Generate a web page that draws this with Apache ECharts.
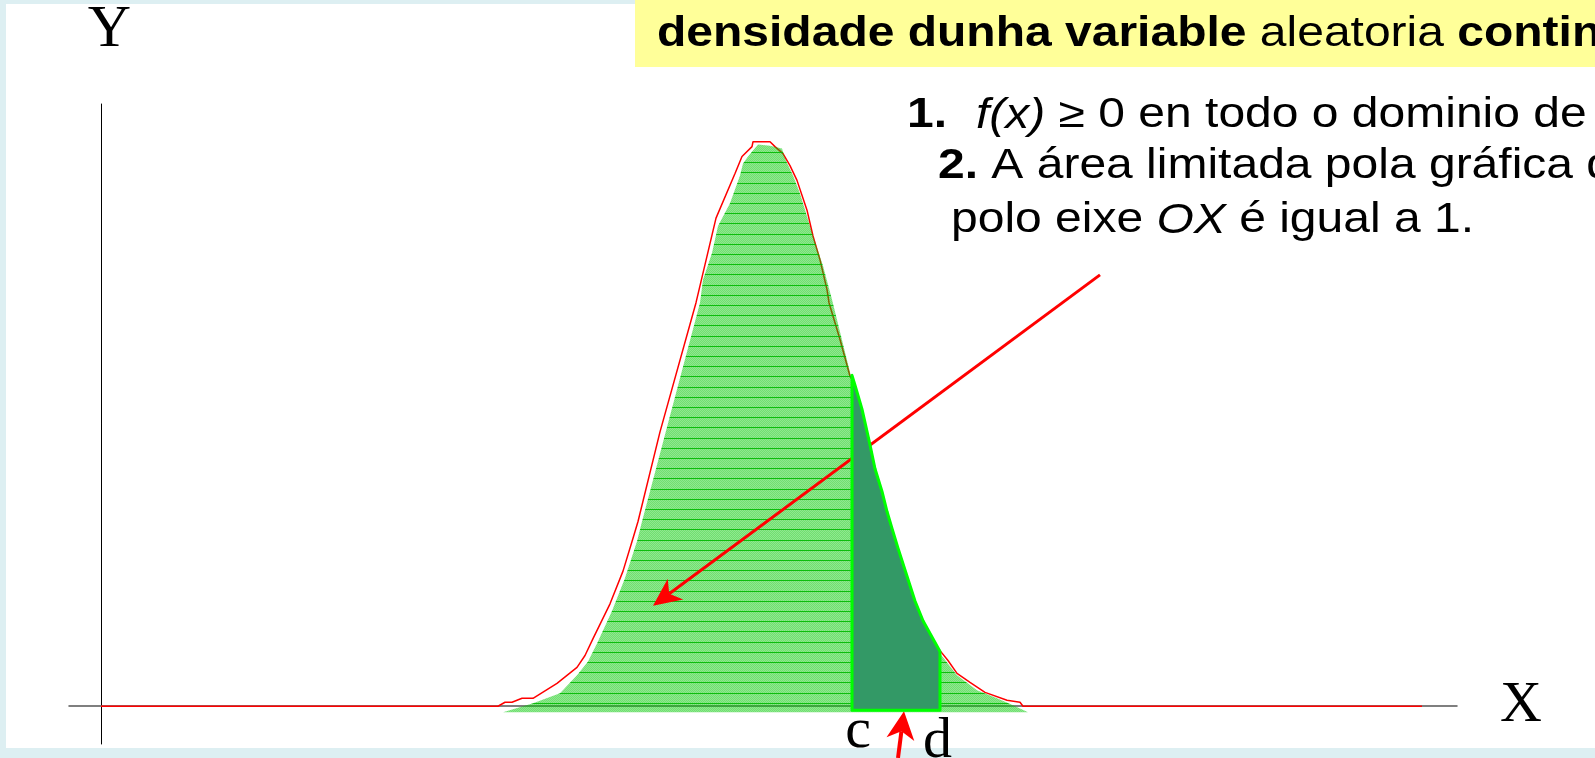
<!DOCTYPE html>
<html>
<head>
<meta charset="utf-8">
<title>Densidade dunha variable aleatoria continua</title>
<script src="https://cdn.jsdelivr.net/npm/echarts@6/dist/echarts.min.js"></script>
<style>
  html, body { margin: 0; padding: 0; background: #ddeff2; }
  #panel { position: absolute; left: 6px; top: 4px; width: 1589px; height: 744px; background: #ffffff; }
  #chart { position: absolute; left: 0; top: 0; width: 1595px; height: 758px; }
</style>
</head>
<body>
<div id="panel"></div>
<div id="chart"></div>
<script>
// Density curve f(x): outline drawn in red
const curveX = [0, 7.94, 8.08, 8.22, 8.42, 8.64, 9.12, 9.52, 9.68, 9.84, 10.18,
  10.44, 10.64, 10.74, 11.18, 11.90, 12.30, 12.68, 12.82, 13.02, 13.04,
  13.38, 13.48, 13.64, 13.78, 13.92, 14.12, 14.24, 14.38, 14.52, 14.56,
  14.78, 14.98, 15.08, 15.22, 15.38, 15.48, 15.62, 15.72, 15.82, 15.94,
  16.28, 16.44, 16.70, 16.78, 16.94, 17.12, 17.38, 17.68, 18.12, 18.38,
  18.44, 26.42];
const curveY = [0, 0, 0.0018, 0.0018, 0.0036, 0.0036, 0.0104, 0.0176, 0.0230, 0.0306, 0.0464,
  0.0612, 0.0761, 0.0837, 0.1243, 0.1828, 0.2211, 0.2413, 0.2490, 0.2535, 0.2557,
  0.2557, 0.2535, 0.2503, 0.2449, 0.2382, 0.2247, 0.2130, 0.2022, 0.1887, 0.1828,
  0.1661, 0.1495, 0.1454, 0.1346, 0.1184, 0.1076, 0.0973, 0.0882, 0.0806, 0.0716,
  0.0477, 0.0387, 0.0270, 0.0252, 0.0207, 0.0149, 0.0108, 0.0063, 0.0027, 0.0018,
  0, 0];

// Whole area under the density (hatched fill)
const areaBase = -0.0027;
const areaX = [8.04, 8.64, 9.18, 9.52, 9.74, 9.92, 10.22, 10.48, 10.72, 10.82,
  11.40, 11.98, 12.04, 12.22, 12.34, 12.58, 12.78, 12.84, 12.94, 13.14,
  13.38, 13.62, 13.68, 13.84, 13.98, 14.24, 14.44, 14.62, 14.98, 15.38,
  15.72, 15.94, 16.28, 16.44, 16.78, 17.12, 17.52, 17.92, 18.24, 18.54];
const areaY = [-0.0027, 0.0014, 0.0059, 0.0140, 0.0203, 0.0284, 0.0432, 0.0581, 0.0747, 0.0837,
  0.1333, 0.1828, 0.1932, 0.2053, 0.2175, 0.2278, 0.2404, 0.2458, 0.2490, 0.2544,
  0.2539, 0.2526, 0.2481, 0.2404, 0.2323, 0.2130, 0.1995, 0.1842, 0.1513, 0.1184,
  0.0882, 0.0716, 0.0477, 0.0387, 0.0239, 0.0140, 0.0072, 0.0036, 0.0005, -0.0027];

// Probability over the interval [c, d]
const bandBase = -0.0018;
const bandX = [15.02, 15.08, 15.22, 15.38, 15.48, 15.62, 15.72, 15.82, 15.94, 16.28, 16.44, 16.78];
const bandY = [0.1499, 0.1454, 0.1346, 0.1184, 0.1076, 0.0973, 0.0882, 0.0806, 0.0716, 0.0477, 0.0387, 0.0248];
const intervalLabels = ['c', 'd'];

// Call-out arrows (tail, head) in data units
const areaArrow = [[19.98, 0.1954], [11.04, 0.0455]];
const intervalArrow = [[15.94, -0.0234], [16.06, -0.0023]];

// Slide texts
const titleBold1 = 'densidade dunha variable';
const titleNormal = 'aleatoria';
const titleBold2 = 'continua';
const item1Num = '1.';
const item1Func = 'f(x)';
const item1Text = ' \u2265 0 en todo o dominio de';
const item2Num = '2.';
const item2Text = ' A \u00e1rea limitada pola gr\u00e1fica da';
const item3Pre = 'polo eixe ';
const item3Axis = 'OX';
const item3Post = ' \u00e9 igual a 1.';

const SANS = 'Liberation Sans, Arial, sans-serif';
const SERIF = 'Liberation Serif, Times New Roman, serif';
const TEXT_SIZE = 41.6;   // slide body font size
const TEXT_STRETCH = 1.154; // slide text is set slightly wide

function zip(xs, ys) { return xs.map((x, i) => [x, ys[i]]); }

// Hatched light-green texture: half-tone green with thin horizontal rules
function hatchCanvas() {
  const c = document.createElement('canvas');
  c.width = 2; c.height = 51;
  const g = c.getContext('2d');
  for (let y = 0; y < c.height; y++) {
    for (let x = 0; x < c.width; x++) {
      g.fillStyle = ((x + y) % 2) ? 'rgba(0,200,0,0.44)' : 'rgba(0,200,0,0.56)';
      g.fillRect(x, y, 1, 1);
    }
  }
  g.fillStyle = 'rgba(0,185,0,0.9)';
  [0, 10, 20, 31, 41].forEach(y => g.fillRect(0, y, 2, 1));
  return c;
}

function polygonSeries(name, xs, ys, base, style, z) {
  return {
    type: 'custom',
    name: name,
    z: z,
    silent: true,
    coordinateSystem: 'cartesian2d',
    data: [[xs[0], base]],
    renderItem: function (params, api) {
      const pts = [[xs[0], base]].concat(zip(xs, ys)).concat([[xs[xs.length - 1], base]]);
      return {
        type: 'polygon',
        shape: { points: pts.map(p => api.coord(p)) },
        style: style
      };
    }
  };
}

const chart = echarts.init(document.getElementById('chart'), null, { renderer: 'canvas' });

const option = {
  backgroundColor: 'transparent',
  animation: false,
  grid: { left: 69, right: 138, top: 100, bottom: 14 },
  xAxis: {
    type: 'value', min: -0.64, max: 27.12, z: 1,
    axisLine: { onZero: true, lineStyle: { color: '#555555', width: 1.5 } },
    axisTick: { show: false }, axisLabel: { show: false }, splitLine: { show: false },
    name: 'X', nameLocation: 'end', nameGap: 43,
    nameTextStyle: { fontFamily: SERIF, fontSize: 58, color: '#000', padding: [0, 0, 7, 0] }
  },
  yAxis: {
    type: 'value', min: -0.0171, max: 0.2728, z: 1,
    axisLine: { onZero: true, lineStyle: { color: '#000000', width: 1 } },
    axisTick: { show: false }, axisLabel: { show: false }, splitLine: { show: false },
    name: 'Y', nameLocation: 'end', nameGap: 44,
    nameTextStyle: { fontFamily: SERIF, fontSize: 60, color: '#000', padding: [0, 0, 0, 17] }
  },
  series: [
    {
      type: 'line', name: 'f(x)', z: 2, silent: true,
      data: zip(curveX, curveY),
      symbol: 'none',
      lineStyle: { color: '#ff0000', width: 1.5 },
      markPoint: {
        symbol: 'circle', symbolSize: 1,
        itemStyle: { color: 'rgba(0,0,0,0)' },
        label: { show: true, formatter: '{b}', position: 'inside', fontFamily: SERIF, fontSize: 58, color: '#000' },
        data: [
          { name: intervalLabels[0], coord: [bandX[0], 0], label: { offset: [6, 26] } },
          { name: intervalLabels[1], coord: [bandX[bandX.length - 1], 0], label: { offset: [-2.5, 36] } }
        ]
      }
    },
    polygonSeries('area', areaX, areaY, areaBase,
      { fill: { image: hatchCanvas(), repeat: 'repeat', x: 0, y: 50 } }, 3),
    polygonSeries('P(c<X<d)', bandX, bandY, bandBase,
      { fill: '#339966', stroke: '#00ff00', lineWidth: 3, lineJoin: 'round' }, 5)
  ]
};
chart.setOption(option);

const toPx = p => chart.convertToPixel({ gridIndex: 0 }, p);

function arrowShapes(id, tail, head, lineW, headL, headW) {
  const a = toPx(tail), b = toPx(head);
  const dx = b[0] - a[0], dy = b[1] - a[1], len = Math.hypot(dx, dy);
  const ux = dx / len, uy = dy / len, nx = -uy, ny = ux;
  const base = [b[0] - ux * headL, b[1] - uy * headL];
  const notch = [b[0] - ux * headL * 0.72, b[1] - uy * headL * 0.72];
  return [
    { id: id + '-shaft', type: 'line', z: 4, silent: true,
      shape: { x1: a[0], y1: a[1], x2: notch[0], y2: notch[1] },
      style: { stroke: '#ff0000', lineWidth: lineW } },
    { id: id + '-head', type: 'polygon', z: 4, silent: true,
      shape: { points: [b, [base[0] + nx * headW, base[1] + ny * headW], notch, [base[0] - nx * headW, base[1] - ny * headW]] },
      style: { fill: '#ff0000' } }
  ];
}

function slideText(id, x, y, text, rich, baseWeight) {
  return {
    id: id, type: 'text', z: 10, silent: true, x: x, y: y,
    scaleX: TEXT_STRETCH, scaleY: 1,
    style: {
      text: text, verticalAlign: 'middle', align: 'left', fill: '#000',
      font: (baseWeight || 'normal') + ' ' + TEXT_SIZE + 'px ' + SANS,
      rich: rich || {}
    }
  };
}

const richStyles = {
  b: { fontFamily: SANS, fontSize: TEXT_SIZE, fontWeight: 'bold', fill: '#000' },
  n: { fontFamily: SANS, fontSize: TEXT_SIZE, fontWeight: 'normal', fill: '#000' },
  i: { fontFamily: SANS, fontSize: TEXT_SIZE, fontStyle: 'italic', fill: '#000' }
};

const graphics = [
  { id: 'title-box', type: 'rect', z: 1, silent: true,
    shape: { x: 635, y: 0, width: 960, height: 67 }, style: { fill: '#ffff99' } },
  slideText('title', 657, 34.5,
    '{b|' + titleBold1 + '} {n|' + titleNormal + '} {b|' + titleBold2 + '}', richStyles),
  slideText('item1-num', 907, 116, item1Num, null, 'bold'),
  slideText('item1', 976, 116, '{i|' + item1Func + '}' + item1Text, richStyles),
  slideText('item2', 938, 167, '{b|' + item2Num + '}' + item2Text, richStyles),
  slideText('item3', 951, 221, item3Pre + '{i|' + item3Axis + '}' + item3Post, richStyles)
]
  .concat(arrowShapes('area-arrow', areaArrow[0], areaArrow[1], 3, 28, 13))
  .concat(arrowShapes('interval-arrow', intervalArrow[0], intervalArrow[1], 4, 28, 14));

chart.setOption({ graphic: graphics });
</script>
</body>
</html>
